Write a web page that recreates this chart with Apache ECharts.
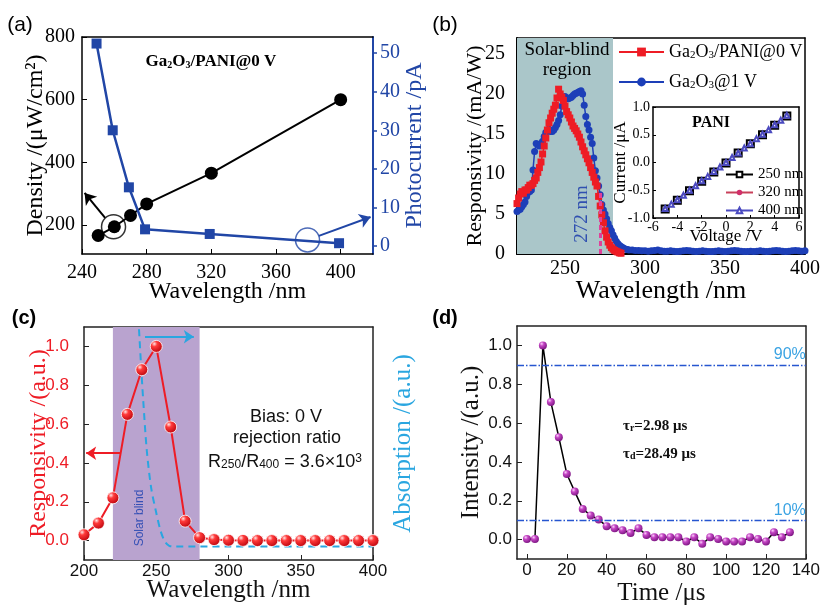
<!DOCTYPE html>
<html><head><meta charset="utf-8">
<script src="https://cdn.jsdelivr.net/npm/echarts@6/dist/echarts.min.js"></script>
<style>html,body{margin:0;padding:0;background:#fff}#c{width:823px;height:607px}</style>
</head><body><div id="c"></div>
<script>
// ---------- (a) ----------
const aWlDensity = [250, 260, 270, 280, 320, 400];
const aDensity = [166, 194, 230, 267, 365, 600];
const aWlPhoto = [249, 259, 269, 279, 319, 399];
const aPhoto = [52.5, 30.0, 15.2, 4.3, 3.1, 0.7];
const aXTicks = [240, 280, 320, 360, 400];
const aYLeftTicks = [200, 400, 600, 800];
const aYRightTicks = [0, 10, 20, 30, 40, 50];
// ---------- (b) ----------
const bRedWl = [220,221,222,223,224,225,226,227,228,229,230,231,232,233,234,235,236,237,238,239,240,241,242,243,244,245,246,247,248,249,250,251,252,253,254,255,256,257,258,259,260,261,262,263,264,265,266,267,268,269,270,271,272,273,274,275,276,277,278,279,280,281,282,283,284,285];
const bRedResp = [6.3,7.0,7.5,7.8,7.6,8.0,8.0,8.3,8.6,8.6,8.8,9.2,9.5,10.2,10.8,11.5,12.5,13.5,14.5,15.5,16.4,17.0,17.6,18.1,18.6,19.5,20.6,20.0,19.6,19.2,18.5,17.8,17.4,17.0,16.5,16.0,15.7,15.4,15.0,14.6,14.0,13.4,12.9,12.4,11.9,11.4,10.8,10.2,9.6,9.0,8.5,7.2,6.0,4.9,3.9,2.9,2.1,1.5,1.1,0.8,0.6,0.45,0.35,0.25,0.15,0.1];
const bBlueWl = [220,221,222,223,224,225,226,227,228,229,230,231,232,233,234,235,236,237,238,239,240,241,242,243,244,245,246,247,248,249,250,251,252,253,254,255,256,257,258,259,260,261,262,263,264,265,266,267,268,269,270,271,272,273,274,275,276,277,278,279,280,281,282,283,284,285,286,287,288,289,290,
  292,294,296,298,300,302,304,306,308,310,312,314,316,318,320,322,324,326,328,330,332,334,336,338,340,342,344,346,348,350,352,354,356,358,360,362,364,366,368,370,372,374,376,378,380,382,384,386,388,390,392,394,396,398,400];
const bBlueResp = [5.3,5.5,5.6,5.9,6.2,6.5,7.2,7.7,7.8,8.0,10.5,12.8,13.8,13.7,13.5,13.8,14.1,14.7,15.2,15.5,15.6,15.3,15.3,15.5,15.8,16.2,16.7,17.4,18.5,19.3,19.7,19.5,19.4,19.5,19.6,19.8,20.0,20.1,20.2,20.3,20.4,20.0,18.6,17.2,16.2,15.5,14.6,13.8,12.0,10.4,9.5,8.5,7.4,6.2,5.5,5.0,4.4,3.8,3.3,2.9,2.4,2.0,1.6,1.3,1.1,0.95,0.8,0.7,0.6,0.55,0.5,
  0.5,0.45,0.45,0.4,0.4,0.35,0.4,0.45,0.5,0.4,0.35,0.35,0.4,0.35,0.3,0.35,0.4,0.45,0.4,0.35,0.3,0.35,0.4,0.35,0.3,0.3,0.35,0.4,0.35,0.3,0.35,0.4,0.45,0.4,0.35,0.3,0.3,0.35,0.3,0.35,0.4,0.35,0.3,0.35,0.4,0.45,0.4,0.35,0.3,0.35,0.4,0.45,0.4,0.35,0.4];
const bXTicks = [250, 300, 350, 400];
const bYTicks = [0, 5, 10, 15, 20, 25];
// inset
const iV250 = [-5,-4,-3,-2,-1,0,1,2,3,4,5];
const iI250 = [-0.84,-0.68,-0.51,-0.34,-0.17,-0.01,0.17,0.34,0.50,0.67,0.84];
const iV = [-5,-4.5,-4,-3.5,-3,-2.5,-2,-1.5,-1,-0.5,0,0.5,1,1.5,2,2.5,3,3.5,4,4.5,5];
const iI320 = [-0.84,-0.76,-0.68,-0.59,-0.51,-0.42,-0.34,-0.25,-0.17,-0.08,0.00,0.08,0.17,0.25,0.34,0.42,0.50,0.59,0.67,0.76,0.84];
const iI400 = [-0.83,-0.75,-0.67,-0.59,-0.50,-0.42,-0.33,-0.25,-0.16,-0.08,0.00,0.09,0.17,0.26,0.34,0.43,0.51,0.59,0.68,0.76,0.85];
// ---------- (c) ----------
const cWl = [200,210,220,230,240,250,260,270,280,290,300,310,320,330,340,350,360,370,380,390,400];
const cResp = [0.03,0.09,0.22,0.65,0.88,1.0,0.585,0.10,0.015,0.005,0.002,0.001,0.0,0.0,0.0,0.0,0.0,0.0,0.0,0.0,0.0];
const cAbsWl = [237.6,239.5,241,243.5,246.5,249.5,253,256,259,262,300,350,400];
const cAbs = [1.15,0.90,0.72,0.46,0.27,0.16,0.05,-0.005,-0.027,-0.03,-0.03,-0.03,-0.03];
const cYTicks = [0, 0.2, 0.4, 0.6, 0.8, 1.0];
// ---------- (d) ----------
const dTime = [0,4,8,12,16,20,24,28,32,36,40,44,48,52,56,60,64,68,72,76,80,84,88,92,96,100,104,108,112,116,120,124,128,132];
const dInt = [0.003,0.003,1.0,0.708,0.527,0.338,0.247,0.158,0.124,0.103,0.069,0.058,0.048,0.034,0.058,0.024,0.012,0.012,0.012,0.012,-0.01,0.012,-0.022,0.012,0.003,-0.01,-0.01,-0.01,0.012,0.003,-0.01,0.038,0.012,0.038];
const dXTicks = [0,20,40,60,80,100,120,140];
const dYTicks = [0, 0.2, 0.4, 0.6, 0.8, 1.0];
// annotation anchors (data coordinates)
const aBlackRing = [259.5, 194];
const aBlueRing = [379.5, 1.56];

const SERIF = 'Liberation Serif', SANS = 'Liberation Sans';
const zip = (x, y) => x.map((v, i) => [v, y[i]]);
const f1 = v => v.toFixed(1);

const chart = echarts.init(document.getElementById('c'));

function frameX(gi, min, max, color) {
  return {type:'value', gridIndex:gi, position:'top', min, max,
    axisLine:{show:true, onZero:false, lineStyle:{color:color||'#000', width:1.5}},
    axisTick:{show:false}, axisLabel:{show:false}, splitLine:{show:false}};
}
function frameY(gi, min, max, color) {
  return {type:'value', gridIndex:gi, position:'right', min, max,
    axisLine:{show:true, onZero:false, lineStyle:{color:color||'#000', width:1.5}},
    axisTick:{show:false}, axisLabel:{show:false}, splitLine:{show:false}};
}

const redSphere = new echarts.graphic.RadialGradient(0.35, 0.3, 0.75, [
  {offset:0, color:'#ffe4e4'}, {offset:0.3, color:'#ff3a3a'}, {offset:1, color:'#b8000a'}]);
const magSphere = new echarts.graphic.RadialGradient(0.35, 0.3, 0.75, [
  {offset:0, color:'#fbd0fb'}, {offset:0.35, color:'#c445c4'}, {offset:1, color:'#7a1480'}]);

const blueA = '#2146a6';

function txt(x, y, text, font, extra) {
  const style = Object.assign({text, fontFamily:font.family, fontSize:font.size, fontWeight:font.weight||'normal',
    fill:font.color||'#000', textAlign:font.align||'center', textVerticalAlign:'middle'}, extra||{});
  return {type:'text', x, y, z:100, zlevel:0, rotation:font.rot||0, style};
}

const option = {
  animation: false,
  backgroundColor: '#fff',
  grid: [
    {left:82, top:37, width:291, height:217},
    {left:517, top:38, width:290, height:216},
    {left:653, top:107, width:146, height:111},
    {left:84, top:327, width:289, height:233},
    {left:517, top:326, width:290, height:234}
  ],
  xAxis: [
    {type:'value', gridIndex:0, min:240, max:420,
      axisLine:{onZero:false, lineStyle:{color:'#000', width:1.5}},
      axisTick:{inside:true, length:5, customValues:aXTicks, lineStyle:{color:'#000'}},
      axisLabel:{customValues:aXTicks, fontFamily:SERIF, fontSize:20, color:'#000', margin:9},
      splitLine:{show:false},
      name:'Wavelength /nm', nameLocation:'middle', nameGap:26, nameMoveOverlap:false,
      nameTextStyle:{fontFamily:SERIF, fontSize:24, color:'#000'}},
    frameX(0, 240, 420),
    {type:'value', gridIndex:1, min:220, max:400,
      axisLine:{onZero:false, lineStyle:{color:'#000', width:2}},
      axisTick:{inside:true, length:5, customValues:[250,300,350], lineStyle:{color:'#000'}},
      axisLabel:{customValues:bXTicks, fontFamily:SERIF, fontSize:20, color:'#000', margin:5},
      splitLine:{show:false},
      name:'Wavelength /nm', nameLocation:'middle', nameGap:24, nameMoveOverlap:false,
      nameTextStyle:{fontFamily:SERIF, fontSize:26, color:'#000'}},
    frameX(1, 220, 400),
    {type:'value', gridIndex:2, min:-6, max:6, interval:2,
      axisLine:{onZero:false, lineStyle:{color:'#000', width:1.5}},
      axisTick:{inside:true, length:3, lineStyle:{color:'#000'}},
      axisLabel:{fontFamily:SERIF, fontSize:14, color:'#000', margin:2},
      splitLine:{show:false},
      name:'Voltage /V', nameLocation:'middle', nameGap:10, nameMoveOverlap:false,
      nameTextStyle:{fontFamily:SERIF, fontSize:17, color:'#000'}},
    frameX(2, -6, 6),
    {type:'value', gridIndex:3, min:200, max:400, interval:50,
      axisLine:{onZero:false, lineStyle:{color:'#222', width:1.5}},
      axisTick:{inside:true, length:5, lineStyle:{color:'#222'}},
      axisLabel:{fontFamily:SANS, fontSize:17, color:'#111', margin:3},
      splitLine:{show:false},
      name:'Wavelength /nm', nameLocation:'middle', nameGap:18, nameMoveOverlap:false,
      nameTextStyle:{fontFamily:SERIF, fontSize:25, color:'#111'}},
    frameX(3, 200, 400, '#222'),
    {type:'value', gridIndex:4, min:-5, max:140,
      axisLine:{onZero:false, lineStyle:{color:'#222', width:1.5}},
      axisTick:{inside:true, length:5, customValues:dXTicks, lineStyle:{color:'#222'}},
      axisLabel:{customValues:dXTicks, fontFamily:SANS, fontSize:17, color:'#111', margin:3},
      splitLine:{show:false},
      name:'Time /μs', nameLocation:'middle', nameGap:22, nameMoveOverlap:false,
      nameTextStyle:{fontFamily:SERIF, fontSize:25, color:'#111'}},
    frameX(4, -5, 140, '#222')
  ],
  yAxis: [
    {type:'value', gridIndex:0, min:107, max:800,
      axisLine:{onZero:false, lineStyle:{color:'#000', width:1.5}},
      axisTick:{inside:true, length:5, customValues:aYLeftTicks, lineStyle:{color:'#000'}},
      axisLabel:{customValues:aYLeftTicks, fontFamily:SERIF, fontSize:20, color:'#000', margin:7},
      splitLine:{show:false},
      name:'Density /(μW/cm²)', nameLocation:'middle', nameGap:34, nameMoveOverlap:false,
      nameTextStyle:{fontFamily:SERIF, fontSize:24, color:'#000'}},
    {type:'value', gridIndex:0, position:'right', min:-2.1, max:54.2,
      axisLine:{onZero:false, lineStyle:{color:blueA, width:2}},
      axisTick:{inside:false, length:4, customValues:aYRightTicks, lineStyle:{color:blueA, width:1.5}},
      axisLabel:{customValues:aYRightTicks, fontFamily:SERIF, fontSize:20, color:blueA, margin:7},
      splitLine:{show:false},
      name:'Photocurrent /pA', nameLocation:'middle', nameGap:30, nameMoveOverlap:false,
      nameTextStyle:{fontFamily:SERIF, fontSize:24, color:blueA}},
    {type:'value', gridIndex:1, min:0, max:27,
      axisLine:{onZero:false, lineStyle:{color:'#000', width:2}},
      axisTick:{inside:true, length:5, customValues:bYTicks, lineStyle:{color:'#000'}},
      axisLabel:{customValues:bYTicks, fontFamily:SERIF, fontSize:20, color:'#000', margin:12},
      splitLine:{show:false},
      name:'Responsivity /(mA/W)', nameLocation:'middle', nameGap:31, nameMoveOverlap:false,
      nameTextStyle:{fontFamily:SERIF, fontSize:22, color:'#000'}},
    frameY(1, 0, 27),
    {type:'value', gridIndex:2, min:-1, max:1, interval:0.5,
      axisLine:{onZero:false, lineStyle:{color:'#000', width:1.5}},
      axisTick:{inside:true, length:3, lineStyle:{color:'#000'}},
      axisLabel:{fontFamily:SERIF, fontSize:14, color:'#000', margin:3, formatter:f1},
      splitLine:{show:false},
      name:'Current /μA', nameLocation:'middle', nameGap:24, nameMoveOverlap:false,
      nameTextStyle:{fontFamily:SERIF, fontSize:17, color:'#000'}},
    frameY(2, -1, 1),
    {type:'value', gridIndex:3, min:-0.1, max:1.1,
      axisLine:{onZero:false, lineStyle:{color:'#222', width:1.5}},
      axisTick:{inside:true, length:5, customValues:cYTicks, lineStyle:{color:'#222'}},
      axisLabel:{customValues:cYTicks, fontFamily:SANS, fontSize:17, color:'#ee1c25', margin:15, formatter:f1},
      splitLine:{show:false},
      name:'Responsivity /(a.u.)', nameLocation:'middle', nameGap:33, nameMoveOverlap:false,
      nameTextStyle:{fontFamily:SERIF, fontSize:24, color:'#ee1c25'}},
    {type:'value', gridIndex:3, position:'right', min:-0.1, max:1.1,
      axisLine:{show:true, onZero:false, lineStyle:{color:'#222', width:1.5}},
      axisTick:{show:false}, axisLabel:{show:false}, splitLine:{show:false},
      name:'Absorption /(a.u.)', nameLocation:'middle', nameGap:18, nameMoveOverlap:false,
      nameTextStyle:{fontFamily:SERIF, fontSize:25, color:'#2aa6e0'}},
    {type:'value', gridIndex:4, min:-0.1, max:1.1,
      axisLine:{onZero:false, lineStyle:{color:'#222', width:1.5}},
      axisTick:{inside:true, length:5, customValues:dYTicks, lineStyle:{color:'#222'}},
      axisLabel:{customValues:dYTicks, fontFamily:SANS, fontSize:17, color:'#111', margin:5, formatter:f1},
      splitLine:{show:false},
      name:'Intensity /(a.u.)', nameLocation:'middle', nameGap:33, nameMoveOverlap:false,
      nameTextStyle:{fontFamily:SERIF, fontSize:25, color:'#111'}},
    frameY(4, -0.1, 1.1, '#222')
  ],
  legend: [
    {data:['Ga2O3/PANI@0 V', 'Ga2O3@1 V'], orient:'vertical', left:613, top:38,
      itemWidth:45, itemHeight:11, itemGap:12, selectedMode:false,
      formatter: n => n === 'Ga2O3@1 V' ? 'Ga{s|2}O{s|3}@1 V' : 'Ga{s|2}O{s|3}/PANI@0 V',
      textStyle:{fontFamily:SERIF, fontSize:18, color:'#000',
        rich:{s:{fontFamily:SERIF, fontSize:11, color:'#000', verticalAlign:'bottom'}}}},
    {data:['250 nm', '320 nm', '400 nm'], orient:'vertical', left:720, top:162,
      itemWidth:27, itemHeight:7, itemGap:3, selectedMode:false,
      textStyle:{fontFamily:SERIF, fontSize:15, color:'#000'}}
  ],
  series: [
    // backgrounds
    {type:'line', xAxisIndex:2, yAxisIndex:2, data:[], z:1, silent:true,
      markArea:{silent:true, itemStyle:{color:'#aac6c9'}, data:[[{xAxis:220}, {xAxis:280}]]}},
    {type:'line', xAxisIndex:6, yAxisIndex:6, data:[], z:1, silent:true,
      markArea:{silent:true, itemStyle:{color:'#b9a3cf'}, data:[[{xAxis:220}, {xAxis:280}]]}},
    // (a)
    {type:'line', name:'density', xAxisIndex:0, yAxisIndex:0, data:zip(aWlDensity, aDensity), z:3,
      symbol:'circle', symbolSize:13, itemStyle:{color:'#000'}, lineStyle:{color:'#000', width:2},
      markLine:{silent:true, symbol:['none','arrow'], symbolSize:11, label:{show:false},
        lineStyle:{color:'#000', width:2, type:'solid'},
        data:[[{coord:[254.3, 222]}, {coord:[241.6, 302]}]]}},
    {type:'line', name:'photo', xAxisIndex:0, yAxisIndex:1, data:zip(aWlPhoto, aPhoto), z:3,
      symbol:'rect', symbolSize:10, itemStyle:{color:blueA}, lineStyle:{color:blueA, width:2.5},
      markLine:{silent:true, symbol:['none','arrow'], symbolSize:11, label:{show:false},
        lineStyle:{color:blueA, width:2, type:'solid'},
        data:[[{coord:[386.5, 2.6]}, {coord:[418.5, 7.5]}]]}},
    {type:'scatter', xAxisIndex:0, yAxisIndex:0, data:[aBlackRing], z:4, symbol:'circle', symbolSize:24,
      itemStyle:{color:'rgba(0,0,0,0)', borderColor:'#000', borderWidth:1.5}},
    {type:'scatter', xAxisIndex:0, yAxisIndex:1, data:[aBlueRing], z:4, symbol:'circle', symbolSize:24,
      itemStyle:{color:'rgba(0,0,0,0)', borderColor:blueA, borderWidth:1.5}},
    // (b)
    {type:'line', name:'Ga2O3@1 V', xAxisIndex:2, yAxisIndex:2, data:zip(bBlueWl, bBlueResp), z:2,
      symbol:'circle', symbolSize:7, itemStyle:{color:'#1d3fb8'}, lineStyle:{color:'#1d3fb8', width:1.5}},
    {type:'line', name:'Ga2O3/PANI@0 V', xAxisIndex:2, yAxisIndex:2, data:zip(bRedWl, bRedResp), z:3,
      symbol:'rect', symbolSize:7, itemStyle:{color:'#ee1c25'}, lineStyle:{color:'#ee1c25', width:1.5},
      markLine:{silent:true, symbol:['none','none'], label:{show:false},
        lineStyle:{color:'#e0409a', width:3, type:[5,3]},
        data:[[{coord:[272, 0]}, {coord:[272, 8]}]]}},
    // inset
    {type:'line', name:'250 nm', xAxisIndex:4, yAxisIndex:4, data:zip(iV250, iI250), z:4,
      symbol:'emptyRect', symbolSize:7, itemStyle:{color:'#000', borderWidth:2}, lineStyle:{color:'#000', width:1.5}},
    {type:'line', name:'320 nm', xAxisIndex:4, yAxisIndex:4, data:zip(iV, iI320), z:5,
      symbol:'circle', symbolSize:4, itemStyle:{color:'#d0306a'}, lineStyle:{color:'#c8405a', width:1}},
    {type:'line', name:'400 nm', xAxisIndex:4, yAxisIndex:4, data:zip(iV, iI400), z:5,
      symbol:'emptyTriangle', symbolSize:5, itemStyle:{color:'#4a4ac0'}, lineStyle:{color:'#4a4ac0', width:1}},
    // (c)
    {type:'line', xAxisIndex:6, yAxisIndex:6, data:zip(cWl, cResp), z:4,
      symbol:'circle', symbolSize:12, itemStyle:{color:redSphere, borderColor:'#fff', borderWidth:0.8},
      lineStyle:{color:'#ee1c25', width:2},
      markLine:{silent:true, symbol:['none','arrow'], symbolSize:10, label:{show:false},
        lineStyle:{color:'#ee1c25', width:2, type:'solid'},
        data:[[{coord:[224.9, 0.45]}, {coord:[201.5, 0.45]}]]}},
    {type:'line', xAxisIndex:6, yAxisIndex:7, data:zip(cAbsWl, cAbs), z:3,
      showSymbol:false, smooth:0.3, lineStyle:{color:'#2aa6e0', width:2, type:[7,5]},
      markLine:{silent:true, symbol:['none','arrow'], symbolSize:10, label:{show:false},
        lineStyle:{color:'#2aa6e0', width:2, type:'solid'},
        data:[[{coord:[242.2, 1.05]}, {coord:[276, 1.05]}]]}},
    // (d)
    {type:'line', xAxisIndex:8, yAxisIndex:8, data:zip(dTime, dInt), z:4,
      symbol:'circle', symbolSize:8, itemStyle:{color:magSphere}, lineStyle:{color:'#000', width:1.5},
      markLine:{silent:true, symbol:['none','none'],
        lineStyle:{color:'#2656d0', width:1.3, type:[7,2,1.5,2]},
        label:{show:true, position:'insideEndTop', fontFamily:SANS, fontSize:16, color:'#3aa3e3', distance:[0,2]},
        data:[{yAxis:0.9, label:{formatter:'90%'}}, {yAxis:0.1, label:{formatter:'10%'}}]}}
  ],
  graphic: {elements: [
    txt(20, 25, '(a)', {family:SANS, size:21}),
    txt(445, 25, '(b)', {family:SANS, size:21}),
    txt(24, 318, '(c)', {family:SANS, size:20, weight:'bold'}),
    txt(445, 318, '(d)', {family:SANS, size:20, weight:'bold'}),
    txt(211, 62, 'Ga{s|2}O{s|3}/PANI@0 V', {family:SERIF, size:17, weight:'bold'},
      {rich:{s:{fontFamily:SERIF, fontWeight:'bold', fontSize:10, fill:'#000', verticalAlign:'bottom'}}}),
    txt(567, 50, 'Solar-blind', {family:SERIF, size:19}),
    txt(567, 70, 'region', {family:SERIF, size:19}),
    txt(582, 214, '272 nm', {family:SERIF, size:19, color:'#3050b0', rot:Math.PI/2}),
    txt(711, 123, 'PANI', {family:SERIF, size:16, weight:'bold'}),
    txt(140, 518, 'Solar blind', {family:SANS, size:12, color:'#3550b5', rot:Math.PI/2}),
    txt(286, 417, 'Bias: 0 V', {family:SANS, size:18, color:'#111'}),
    txt(287, 438, 'rejection ratio', {family:SANS, size:18, color:'#111'}),
    txt(285, 462, 'R{s|250}/R{s|400} = 3.6×10{p|3}', {family:SANS, size:18, color:'#111'},
      {rich:{s:{fontFamily:SANS, fontSize:12, fill:'#111', verticalAlign:'bottom'}, p:{fontFamily:SANS, fontSize:12, fill:'#111', verticalAlign:'top'}}}),
    txt(623, 426, 'τ{s|r}=2.98 μs', {family:SERIF, size:15, weight:'bold', color:'#111', align:'left'},
      {rich:{s:{fontFamily:SERIF, fontWeight:'bold', fontSize:10, fill:'#111', verticalAlign:'bottom'}}}),
    txt(623, 454, 'τ{s|d}=28.49 μs', {family:SERIF, size:15, weight:'bold', color:'#111', align:'left'},
      {rich:{s:{fontFamily:SERIF, fontWeight:'bold', fontSize:10, fill:'#111', verticalAlign:'bottom'}}})
  ]}
};
chart.setOption(option);
</script></body></html>
